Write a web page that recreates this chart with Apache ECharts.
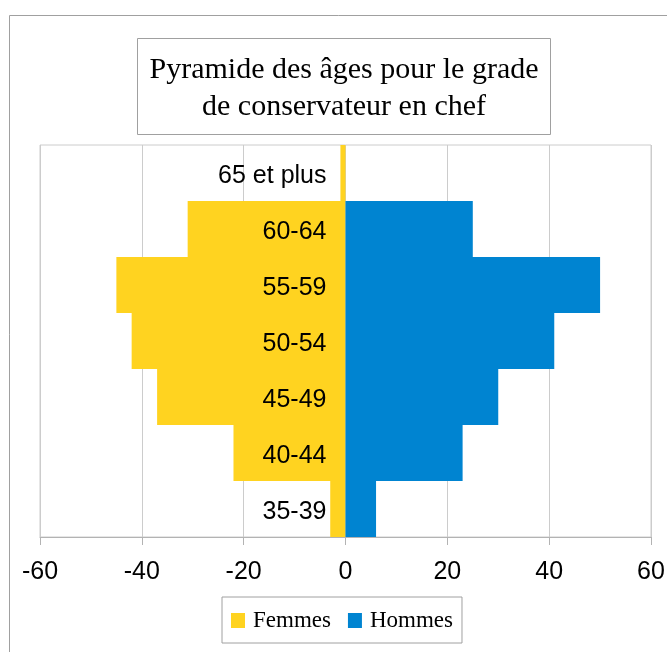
<!DOCTYPE html>
<html>
<head>
<meta charset="utf-8">
<script src="https://cdn.jsdelivr.net/npm/echarts@6/dist/echarts.min.js"></script>
<style>
  html, body { margin: 0; padding: 0; background: #fff; }
  #chart { width: 667px; height: 652px; }
</style>
</head>
<body>
<div id="chart"></div>
<script>
// tranches d'âge, du bas vers le haut
const categories = ['35-39', '40-44', '45-49', '50-54', '55-59', '60-64', '65 et plus']
const femmes = [-3, -22, -37, -42, -45, -31, -1]
const hommes = [6, 23, 30, 41, 50, 25, 0]
const xTicks = [-60, -40, -20, 0, 20, 40, 60]

const chart = echarts.init(document.getElementById('chart'))

const gridLeft = 40
const gridRight = 16
const plotWidth = 667 - gridLeft - gridRight
// décalage de l'axe des catégories pour le placer sur le zéro
const zeroOffset = -plotWidth * (0 - xTicks[0]) / (xTicks[xTicks.length - 1] - xTicks[0])

const option = {
  animation: false,
  backgroundColor: '#fff',
  graphic: [
    // cadre extérieur
    {
      type: 'rect',
      shape: { x: 9.5, y: 15.5, width: 700, height: 700 },
      style: { fill: 'none', stroke: '#a0a0a0', lineWidth: 1 },
      silent: true
    },
    // cadre du titre
    {
      type: 'rect',
      shape: { x: 137.5, y: 38.5, width: 413, height: 96 },
      style: { fill: '#fff', stroke: '#a0a0a0', lineWidth: 1 },
      silent: true
    },
    {
      type: 'text',
      x: 344,
      y: 89,
      style: {
        text: 'Pyramide des âges pour le grade\nde conservateur en chef',
        fill: '#000',
        font: '30px "Liberation Serif"',
        lineHeight: 37,
        align: 'center',
        verticalAlign: 'middle'
      },
      silent: true
    }
  ],
  legend: {
    left: 222,
    top: 597,
    data: ['Femmes', 'Hommes'],
    icon: 'rect',
    itemWidth: 14,
    itemHeight: 15,
    itemGap: 17,
    borderColor: '#a0a0a0',
    borderWidth: 1,
    padding: [12, 9, 11, 9],
    textStyle: {
      fontFamily: 'Liberation Serif',
      fontSize: 23,
      color: '#000',
      padding: [0, 0, 0, 3]
    }
  },
  grid: {
    left: gridLeft,
    right: gridRight,
    top: 145,
    bottom: 115,
    containLabel: false,
    outerBoundsMode: 'none',
    show: true,
    borderColor: '#cccccc',
    borderWidth: 1
  },
  xAxis: {
    type: 'value',
    min: xTicks[0],
    max: xTicks[xTicks.length - 1],
    interval: 20,
    axisLine: { show: true, onZero: false, lineStyle: { color: '#b3b3b3' } },
    axisTick: { show: true, length: 8, lineStyle: { color: '#b3b3b3' } },
    splitLine: { show: true, lineStyle: { color: '#cccccc' } },
    axisLabel: {
      margin: 23,
      fontFamily: 'Liberation Sans',
      fontSize: 25,
      color: '#000'
    }
  },
  yAxis: {
    type: 'category',
    data: categories,
    position: 'left',
    offset: zeroOffset,
    z: 10,
    axisLine: { show: false, onZero: false },
    axisTick: { show: false },
    splitLine: { show: false },
    axisLabel: {
      margin: 19,
      fontFamily: 'Liberation Sans',
      fontSize: 25,
      color: '#000',
      verticalAlign: 'top',
      lineHeight: 6
    }
  },
  series: [
    {
      name: 'Femmes',
      type: 'bar',
      stack: 'pyramide',
      data: femmes,
      barWidth: '100%',
      barCategoryGap: 0,
      itemStyle: { color: '#ffd320' }
    },
    {
      name: 'Hommes',
      type: 'bar',
      stack: 'pyramide',
      data: hommes,
      barWidth: '100%',
      barCategoryGap: 0,
      itemStyle: { color: '#0084d1' }
    }
  ]
}

chart.setOption(option)
</script>
</body>
</html>
